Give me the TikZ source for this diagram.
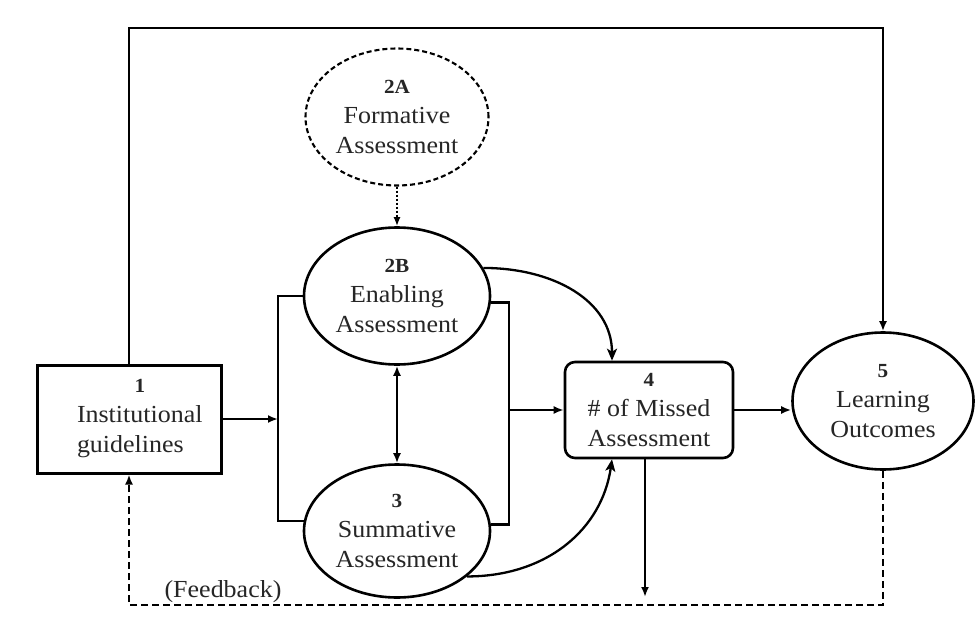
\documentclass[tikz,border=0pt]{standalone}
\usepackage{fontspec}
\setmainfont{Liberation Serif}[FakeStretch=1.06]
\usetikzlibrary{shapes.geometric,arrows.meta,calc}
\newcommand\nlab[1]{{\fontsize{20}{30}\selectfont\bfseries #1}}
\begin{document}
\begin{tikzpicture}[x=1pt,y=-1pt,
  txt/.style={font=\fontsize{24.5}{30}\selectfont, align=center, text=black!85},
  ell/.style={ellipse, draw, line width=2.6pt, inner sep=0pt, txt},
  conn/.style={line width=2.3pt},
  arr/.style={line width=2.3pt, -{Latex[length=10pt,width=8pt]}},
  arrtwo/.style={line width=2.3pt, {Latex[length=10pt,width=8pt]}-{Latex[length=10pt,width=8pt]}},
  carr/.style={line width=2.3pt, -{Stealth[length=12pt,width=10pt,inset=3pt]}},
  dotarr/.style={line width=2pt, dash pattern=on 2pt off 2pt, -{Latex[length=9pt,width=7pt]}},
  dasharr/.style={line width=2.6pt, dash pattern=on 7pt off 4pt, -{Latex[length=10pt,width=8pt]}}
]
\path[fill=white] (0,0) rectangle (979,618);

\node[ell, minimum width=183pt, minimum height=137pt, line width=2.1pt, dash pattern=on 5pt off 3pt] (e2a) at (397,117) {\nlab{2A}\\Formative\\Assessment};
\node[ell, minimum width=186pt, minimum height=137pt] (e2b) at (397,296) {\nlab{2B}\\Enabling\\Assessment};
\node[ell, minimum width=186pt, minimum height=133pt] (e3) at (397,531) {\nlab{3}\\Summative\\Assessment};
\node[ell, minimum width=181pt, minimum height=137pt] (e5) at (883,401) {\nlab{5}\\Learning\\Outcomes};
\node[draw, line width=3pt, minimum width=184pt, minimum height=108pt, txt, align=left, text width=148pt, inner sep=0pt] (b1) at (129,419)
  {\hspace*{22pt}\makebox[126pt][c]{\nlab{1}}\\\hspace*{22pt}Institutional\\\hspace*{22pt}guidelines};
\node[draw, rounded corners=10pt, line width=2.6pt, minimum width=168pt, minimum height=96pt, txt] (b4) at (649,410) {\nlab{4}\\\#\ of Missed\\Assessment};

\coordinate (tp) at (883,28);
\draw[arr] (b1.north) |- (tp) -- (e5.north);
\coordinate (lb) at (278,419);
\draw[arr] (b1.east) -- (lb);
\draw[conn] (e2b.west) -| (lb) |- (e3.174);
\coordinate (rb) at (509,410);
\draw[conn] (e2b.356) -| (rb) |- (e3.4);
\draw[arr] (rb) -- (b4.west);
\draw[arrtwo] (e2b.south) -- (e3.north);
\draw[dotarr] (e2a.south) -- (e2b.north);
\draw[carr] (e2b.18) .. controls +(70,0) and +(0,-60) .. ([xshift=-37pt]b4.north);
\draw[carr] (e3.327) .. controls +(80,0) and +(-10,70) .. ([xshift=-37pt]b4.south);
\coordinate (dn) at (645,597);
\draw[arr] ([xshift=-4pt]b4.south) -- (dn);
\draw[arr] (b4.east) -- (e5.west |- b4.east);
\coordinate (fb) at (129,605);
\draw[dasharr] (e5.south) |- (fb) -- (b1.south);
\node[txt] (fbl) at (223,592) {(Feedback)};
\end{tikzpicture}
\end{document}
